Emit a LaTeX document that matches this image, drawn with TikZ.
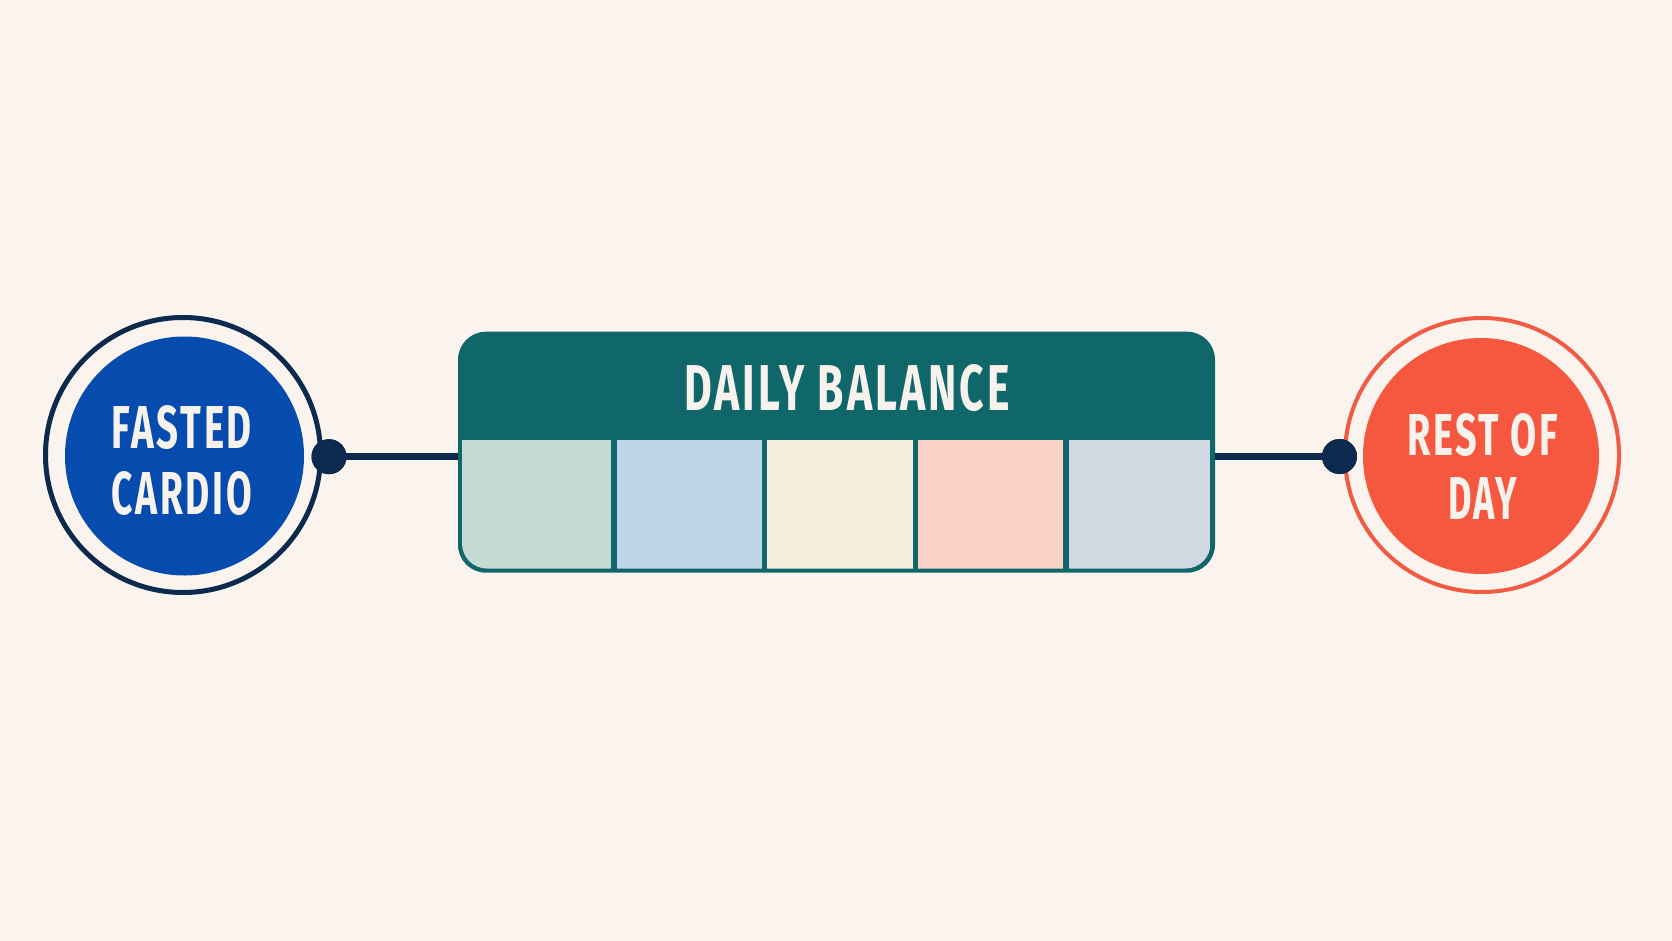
\documentclass[tikz,border=0pt]{standalone}
\usepackage{fontspec}
\setmainfont{Fira Sans}
\newfontfamily\capsfont{Fira Sans}[LetterSpace=7]
\usepackage{graphicx}
\definecolor{bgc}{HTML}{FBF4EE}
\definecolor{navy}{HTML}{0B2A4E}
\definecolor{royal}{HTML}{064BAE}
\definecolor{coral}{HTML}{F5583F}
\definecolor{coralring}{HTML}{F25A43}
\definecolor{tealc}{HTML}{10676A}
\definecolor{cellA}{HTML}{C4DBD4}
\definecolor{cellB}{HTML}{BFD5E9}
\definecolor{cellC}{HTML}{F8EEDD}
\definecolor{cellD}{HTML}{F9D3C5}
\definecolor{cellE}{HTML}{D0D9E1}
\definecolor{txtc}{HTML}{F7F2EC}
\newcommand\fitcaps[3]{\resizebox{#1pt}{#2pt}{\capsfont\bfseries #3}}
\tikzset{
  ringnode/.style={circle, draw=#1, line width=5pt, minimum size=275pt, inner sep=0pt, fill=none},
  discnode/.style={circle, fill=#1, inner sep=0pt},
  dotnode/.style={circle, fill=navy, minimum size=35pt, inner sep=0pt},
  conn/.style={draw=navy, line width=7pt},
  lbl/.style={text=txtc, align=center, inner sep=0pt},
}
\begin{document}
\begin{tikzpicture}[x=1pt,y=-1pt]
\fill[bgc] (0,0) rectangle (1672,941);
\useasboundingbox (0,0) rectangle (1672,941);

% left circle
\node[ringnode=navy] (fcring) at (183,455) {};
\node[discnode=royal, minimum size=239pt] (fc) at (184.5,456) {};
\node[lbl, font=\fontsize{40pt}{66pt}\selectfont] (fctext) at (182,460.5)
  {\fitcaps{140}{43}{FASTED}\\\fitcaps{140}{43}{CARDIO}};

% right circle
\node[ringnode=coralring, line width=4pt, minimum size=274pt] (rdring) at (1482,455) {};
\node[discnode=coral, minimum size=236pt] (rd) at (1481,456) {};
\node[lbl, font=\fontsize{40pt}{64pt}\selectfont] (rdtext) at (1482.5,466)
  {\fitcaps{151}{42}{REST OF}\\\fitcaps{69}{42}{DAY}};

% box
\node[rectangle, rounded corners=28pt, fill=tealc, minimum width=757pt, minimum height=241pt, inner sep=0pt] (box) at (836.5,452.2) {};

\begin{scope}
\clip (462,440) -- (1210.5,440) -- (1210.5,543.5)
  arc[start angle=0, end angle=90, radius=25] -- (487,568.5)
  arc[start angle=90, end angle=180, radius=25] -- cycle;
\fill[cellA] (462,440) rectangle (611,568.5);
\fill[cellB] (616.5,440) rectangle (761.5,568.5);
\fill[cellC] (767,440) rectangle (912.5,568.5);
\fill[cellD] (918,440) rectangle (1063,568.5);
\fill[cellE] (1068.5,440) rectangle (1210.5,568.5);
\end{scope}

\node[lbl] (title) at (847,388.5) {\fitcaps{325}{46}{DAILY BALANCE}};

% dots and connectors
\node[dotnode] (d1) at (329,456.7) {};
\node[dotnode] (d2) at (1339.5,456.5) {};
\draw[conn] (d1.center) -- (box.west |- d1.center);
\draw[conn] (box.east |- d2.center) -- (d2.center);
\node[dotnode] at (d1) {};
\node[dotnode] at (d2) {};
\end{tikzpicture}
\end{document}
